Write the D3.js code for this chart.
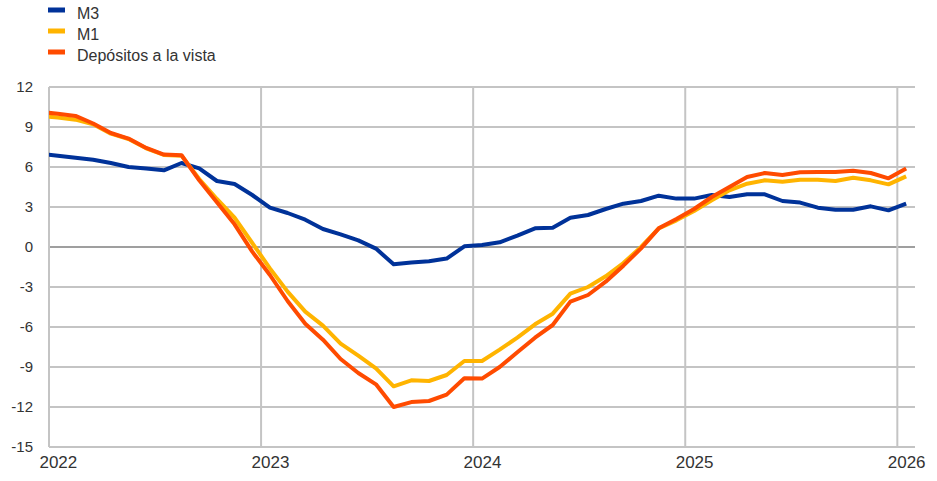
<!DOCTYPE html>
<html>
<head>
<meta charset="utf-8">
<script src="https://cdn.jsdelivr.net/npm/d3@7"></script>
<style>
    body { margin: 0; background: #fff; }
    text { font-family: "Liberation Sans", Arial, sans-serif; fill: #333; }
</style>
</head>
<body>
<div id="chart"></div>
<script>
// categories: monthly observations, Dec 2021 .. Jan 2026
const months = d3.timeMonths(new Date(2021, 11, 1), new Date(2026, 1, 1));
const yearLabels = ["2022", "2023", "2024", "2025", "2026"];
const yTicks = [-15, -12, -9, -6, -3, 0, 3, 6, 9, 12];

const m3 = [7.0, 6.85, 6.7, 6.55, 6.3, 6.0, 5.88, 5.75, 6.3, 5.9, 4.95, 4.73, 3.9,
    2.95, 2.55, 2.05, 1.35, 0.95, 0.5, -0.12, -1.3, -1.17, -1.07, -0.87, 0.05,
    0.15, 0.35, 0.85, 1.4, 1.45, 2.2, 2.4, 2.85, 3.25, 3.45, 3.85, 3.63,
    3.63, 3.9, 3.75, 3.95, 3.95, 3.45, 3.33, 2.95, 2.8, 2.8, 3.05, 2.75,
    3.25];
const m1 = [9.8, 9.72, 9.55, 9.2, 8.5, 8.1, 7.4, 6.9, 6.85, 5.1, 3.6, 2.2, 0.3,
    -1.6, -3.35, -4.85, -5.9, -7.25, -8.15, -9.1, -10.45, -10.0, -10.05, -9.6, -8.55,
    -8.55, -7.7, -6.8, -5.8, -5.0, -3.5, -3.0, -2.2, -1.2, 0.0, 1.4, 2.0,
    2.7, 3.5, 4.25, 4.75, 5.0, 4.9, 5.05, 5.05, 4.95, 5.2, 5.0, 4.7,
    5.3];
const depositos = [10.12, 10.0, 9.83, 9.26, 8.55, 8.13, 7.43, 6.93, 6.88, 5.0, 3.35, 1.7, -0.35,
    -2.1, -4.05, -5.75, -6.95, -8.4, -9.45, -10.3, -12.0, -11.63, -11.55, -11.07, -9.85,
    -9.87, -9.0, -7.9, -6.8, -5.85, -4.1, -3.6, -2.6, -1.4, -0.1, 1.4, 2.1,
    2.85, 3.75, 4.5, 5.25, 5.55, 5.4, 5.6, 5.62, 5.62, 5.72, 5.55, 5.15,
    5.88];

const seriesNames = ["M3", "M1", "Depósitos a la vista"];
const seriesColours = ["#003299", "#ffb400", "#ff4b00"];

const width = 937, height = 481;
const margin = { top: 87, right: 22, bottom: 34, left: 49 };
const gridColour = "#c4c4c4";

const svg = d3.select("#chart")
    .append("svg")
        .attr("width", width)
        .attr("height", height);

const start = new Date(2022, 0, 1);
const monthIndex = d => d3.timeMonth.count(start, d) + 0.5;

const x = d3.scaleLinear()
    .domain([0, 49])
    .range([margin.left, width - margin.right]);
const y = d3.scaleLinear()
    .domain([-15, 12])
    .range([height - margin.bottom, margin.top]);

// horizontal grid
svg.append("g")
    .selectAll("line")
    .data(yTicks)
    .enter()
    .append("line")
        .attr("x1", x(0))
        .attr("x2", x(49))
        .attr("y1", d => y(d))
        .attr("y2", d => y(d))
        .attr("stroke", d => d === 0 ? "#7f7f7f" : gridColour)
        .attr("stroke-width", d => d === 0 ? 1.5 : 2);

// vertical grid at each year
svg.append("g")
    .selectAll("line")
    .data([0, 12, 24, 36, 48])
    .enter()
    .append("line")
        .attr("x1", d => x(d))
        .attr("x2", d => x(d))
        .attr("y1", y(12))
        .attr("y2", y(-15))
        .attr("stroke", gridColour)
        .attr("stroke-width", 2);

// y axis labels
const yAxis = d3.axisLeft(y)
    .tickValues(yTicks)
    .tickSize(0)
    .tickPadding(16)
    .tickFormat(d => String(d));
svg.append("g")
    .attr("transform", `translate(${ margin.left }, 0)`)
    .call(yAxis)
    .call(g => g.select(".domain").remove())
    .selectAll("text")
        .attr("font-size", 15)
        .style("font-family", "'Liberation Sans', Arial, sans-serif")
        .attr("fill", "#333");

// x axis labels, centred on the January observation
const xAxis = d3.axisBottom(x)
    .tickValues([0.5, 12.5, 24.5, 36.5, 48.5])
    .tickSize(0)
    .tickPadding(9)
    .tickFormat((d, i) => yearLabels[i]);
svg.append("g")
    .attr("transform", `translate(0, ${ height - margin.bottom })`)
    .call(xAxis)
    .call(g => g.select(".domain").remove())
    .selectAll("text")
        .attr("font-size", 17)
        .style("font-family", "'Liberation Sans', Arial, sans-serif")
        .attr("fill", "#333");

// clip so the Dec 2021 point only feeds the start of the lines
svg.append("clipPath")
    .attr("id", "plot-clip")
    .append("rect")
        .attr("x", x(0))
        .attr("y", 0)
        .attr("width", x(49) - x(0))
        .attr("height", height);

const line = d3.line()
    .x((d, i) => x(monthIndex(months[i])))
    .y(d => y(d));

svg.append("g")
    .attr("clip-path", "url(#plot-clip)")
    .selectAll("path")
    .data([m3, m1, depositos])
    .enter()
    .append("path")
        .attr("d", d => line(d))
        .attr("fill", "none")
        .attr("stroke", (d, i) => seriesColours[i])
        .attr("stroke-width", 4)
        .attr("stroke-linejoin", "round");

// legend
const legend = svg.append("g")
    .selectAll("g")
    .data(seriesNames)
    .enter()
    .append("g")
        .attr("transform", (d, i) => `translate(48, ${ 10 + i * 21 })`);
legend.append("rect")
    .attr("x", 0)
    .attr("y", -2.5)
    .attr("width", 17)
    .attr("height", 5)
    .attr("fill", (d, i) => seriesColours[i]);
legend.append("text")
    .attr("x", 29)
    .attr("y", 9)
    .attr("font-size", 16)
    .text(d => d);
</script>
</body>
</html>
